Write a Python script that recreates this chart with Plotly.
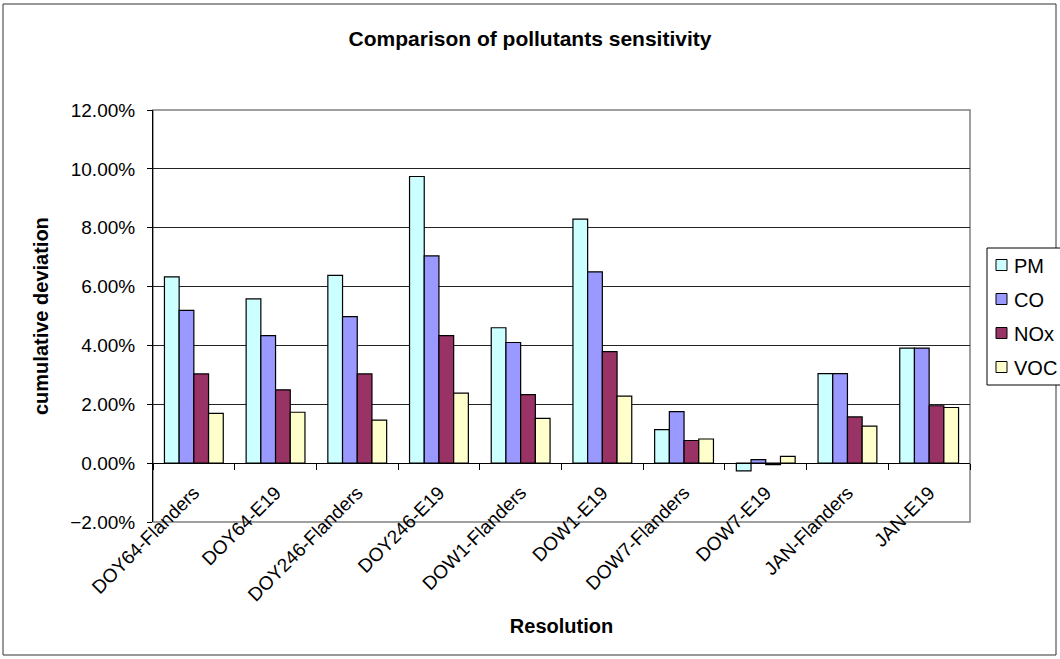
import plotly.graph_objects as go

categories = ["DOY64-Flanders", "DOY64-E19", "DOY246-Flanders", "DOY246-E19",
              "DOW1-Flanders", "DOW1-E19", "DOW7-Flanders", "DOW7-E19",
              "JAN-Flanders", "JAN-E19"]
pm = [0.0633, 0.0558, 0.0638, 0.0974, 0.0460, 0.0829, 0.0114, -0.0026, 0.0304, 0.0391]
co = [0.0519, 0.0433, 0.0498, 0.0704, 0.0410, 0.0650, 0.0175, 0.0012, 0.0304, 0.0391]
nox = [0.0303, 0.0249, 0.0303, 0.0433, 0.0233, 0.0379, 0.0077, -0.0005, 0.0157, 0.0195]
voc = [0.0169, 0.0173, 0.0146, 0.0238, 0.0152, 0.0228, 0.0082, 0.0023, 0.0126, 0.0189]

series_names = ["PM", "CO", "NOx", "VOC"]
series_values = [pm, co, nox, voc]
series_colors = ["#CCFFFF", "#9999FF", "#993366", "#FFFFCC"]

FONT = "Liberation Sans, Arial, sans-serif"
W, H = 1060, 659
ML, MR, MT, MB = 153, 90, 110, 137
ymin, ymax = -0.02, 0.12
pw = W - ML - MR
ph = H - MT - MB


def px_x(px):
    return (px - ML) / pw


def px_y(py):
    return (H - MB - py) / ph


fig = go.Figure()
for name, vals, col in zip(series_names, series_values, series_colors):
    fig.add_trace(go.Bar(x=categories, y=vals, name=name, showlegend=False,
                         marker=dict(color=col, line=dict(color="black", width=1.2))))

shapes = [
    dict(type="rect", xref="paper", yref="paper", x0=0, x1=1, y0=0, y1=1,
         line=dict(color="#808080", width=1.5), layer="below"),
    dict(type="rect", xref="paper", yref="paper",
         x0=px_x(3), x1=px_x(W - 4), y0=px_y(H - 4), y1=px_y(4),
         line=dict(color="#333333", width=1), layer="below"),
    # legend box
    dict(type="rect", xref="paper", yref="paper",
         x0=px_x(987), x1=px_x(1062), y0=px_y(385), y1=px_y(248),
         line=dict(color="black", width=1), fillcolor="white", layer="above"),
]
annotations = [
    dict(text="<b>cumulative deviation</b>", xref="paper", yref="paper",
         x=px_x(41), y=0.5, xanchor="center", yanchor="middle", textangle=-90,
         showarrow=False, font=dict(size=20, family=FONT, color="black")),
]
for i, (name, col) in enumerate(zip(series_names, series_colors)):
    cy = 265 + i * 34
    shapes.append(dict(type="rect", xref="paper", yref="paper",
                       x0=px_x(996), x1=px_x(1007), y0=px_y(cy + 5.5), y1=px_y(cy - 5.5),
                       fillcolor=col, line=dict(color="black", width=1), layer="above"))
    annotations.append(dict(text=name, xref="paper", yref="paper",
                            x=px_x(1012), y=px_y(cy + 1), xanchor="left", yanchor="middle",
                            showarrow=False, font=dict(size=20, family=FONT, color="black")))

fig.update_layout(
    width=W, height=H,
    margin=dict(l=ML, r=MR, t=MT, b=MB),
    paper_bgcolor="white", plot_bgcolor="white",
    barmode="group", bargap=0.28, bargroupgap=0,
    showlegend=False,
    font=dict(family=FONT, size=19, color="black"),
    title=dict(text="<b>Comparison of pollutants sensitivity</b>", x=0.5, xanchor="center",
               y=1 - 39 / H, yanchor="middle", font=dict(size=21, family=FONT)),
    xaxis=dict(anchor="free", position=(0 - ymin) / (ymax - ymin),
               showline=True, linecolor="black", linewidth=1,
               ticks="outside", tickson="boundaries", ticklen=6, tickcolor="black",
               tickangle=-45, tickfont=dict(size=19), showgrid=False,
               ticklabelstandoff=10,
               title=dict(text="<b>Resolution</b>", font=dict(size=20), standoff=14),
               range=[-0.5, len(categories) - 0.5]),
    yaxis=dict(range=[ymin, ymax], dtick=0.02, tickformat=".2%",
               showline=True, linecolor="black", linewidth=1,
               ticks="outside", ticklen=5, tickcolor="black",
               showgrid=True, gridcolor="#222222", gridwidth=1, zeroline=False,
               tickfont=dict(size=19), ticklabelstandoff=8),
    shapes=shapes,
    annotations=annotations,
)

fig.write_html("out.html")
